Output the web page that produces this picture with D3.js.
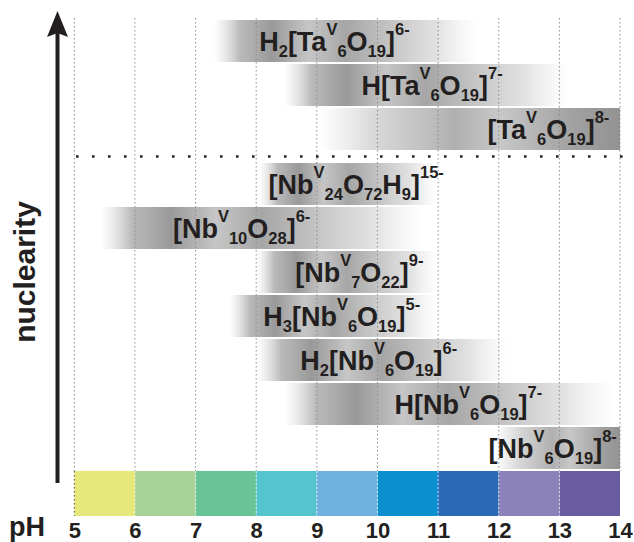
<!DOCTYPE html>
<html>
<head>
<meta charset="utf-8">
<script src="https://cdn.jsdelivr.net/npm/d3@7/dist/d3.min.js"></script>
<style>
  html, body { margin: 0; padding: 0; background: #fff; }
  svg { display: block; }
  text { font-family: "Liberation Sans", Arial, sans-serif; font-weight: bold; fill: #231f20; }
</style>
</head>
<body>
<svg id="chart" width="634" height="542"></svg>
<script>
// ---------- data ----------
const species = [
  "H{_2}[Ta{^V}{_6}O{_19}]{^6-}",
  "H[Ta{^V}{_6}O{_19}]{^7-}",
  "[Ta{^V}{_6}O{_19}]{^8-}",
  "[Nb{^V}{_24}O{_72}H{_9}]{^15-}",
  "[Nb{^V}{_10}O{_28}]{^6-}",
  "[Nb{^V}{_7}O{_22}]{^9-}",
  "H{_3}[Nb{^V}{_6}O{_19}]{^5-}",
  "H{_2}[Nb{^V}{_6}O{_19}]{^6-}",
  "H[Nb{^V}{_6}O{_19}]{^7-}",
  "[Nb{^V}{_6}O{_19}]{^8-}"
];
const metal   = ["Ta","Ta","Ta","Nb","Nb","Nb","Nb","Nb","Nb","Nb"];
const phStart = [7.3, 8.45, 9.05, 8.05, 5.42, 8.0, 7.55, 8.0, 8.45, 11.95];
const phEnd   = [11.65, 13.15, 14, 11.0, 10.75, 11.0, 11.0, 12.15, 13.9, 14];
const peakPH  = [9.29, 10.9, 12.82, 9.65, 7.76, 9.70, 9.41, 10.02, 11.5, 12.89];

const phTicks = [5, 6, 7, 8, 9, 10, 11, 12, 13, 14];
const phColors = ["#e7e87b", "#a9d396", "#68c396", "#55c4ce", "#6fb2df",
                  "#0b8fce", "#2a69b3", "#8a82b9", "#6a5ca0"];

// ---------- layout ----------
const svg = d3.select("#chart");
const x = d3.scaleLinear().domain([5, 14]).range([74.3, 620]);
const y = d3.scaleBand().domain(d3.range(species.length)).range([20, 458]).paddingInner(2 / 44);
const groupGap = 11;
const yTop = i => y(i) + (metal[i] === "Nb" ? groupGap : 0);
const cbTop = 471, cbBottom = 516;

const defs = svg.append("defs");

// gradients
const profBoth = [
  [0, "#d0d0d0", 0], [0.1, "#adadad", 0.85], [0.22, "#999999", 1], [0.36, "#c6c6c6", 1],
  [0.5, "#a6a6a6", 1], [0.68, "#c6c6c6", 1], [0.84, "#d6d6d6", 0.75], [1, "#e4e4e4", 0]
];
const profRight = [
  [0, "#dadada", 0], [0.18, "#d4d4d4", 0.9], [0.45, "#b0b0b0", 1], [0.6, "#c8c8c8", 1],
  [0.85, "#a0a0a0", 1], [1, "#939393", 1]
];
species.forEach((s, i) => {
  const g = defs.append("linearGradient").attr("id", "grad" + i)
    .attr("x1", 0).attr("x2", 1).attr("y1", 0).attr("y2", 0);
  const prof = phEnd[i] >= 14 ? profRight : profBoth;
  prof.forEach(([o, c, op]) => g.append("stop").attr("offset", o).attr("stop-color", c).attr("stop-opacity", op));
});

// bars
svg.append("g").selectAll("rect").data(species).join("rect")
  .attr("x", (d, i) => x(phStart[i]))
  .attr("width", (d, i) => x(phEnd[i]) - x(phStart[i]))
  .attr("y", (d, i) => yTop(i))
  .attr("height", y.bandwidth())
  .attr("fill", (d, i) => `url(#grad${i})`);

// color bar
svg.append("g").selectAll("rect").data(phColors).join("rect")
  .attr("x", (d, i) => x(phTicks[i]))
  .attr("width", (d, i) => x(phTicks[i + 1]) - x(phTicks[i]))
  .attr("y", cbTop).attr("height", cbBottom - cbTop)
  .attr("fill", d => d);

// vertical grid lines
const grid = svg.append("g");
grid.selectAll("line.g").data(phTicks).join("line")
  .attr("x1", d => x(d)).attr("x2", d => x(d))
  .attr("y1", 18).attr("y2", cbTop)
  .attr("stroke", "#8c8c8c").attr("stroke-width", 1).attr("stroke-dasharray", "1.5,2.5");
grid.selectAll("line.c").data(phTicks.slice(1, -1)).join("line")
  .attr("x1", d => x(d)).attr("x2", d => x(d))
  .attr("y1", cbTop).attr("y2", cbBottom)
  .attr("stroke", "#ffffff").attr("stroke-opacity", 0.7).attr("stroke-width", 1).attr("stroke-dasharray", "2,2");
grid.append("line")
  .attr("x1", x(5)).attr("x2", x(5)).attr("y1", cbTop).attr("y2", cbBottom)
  .attr("stroke", "#555").attr("stroke-width", 1).attr("stroke-dasharray", "1.5,2.5");

// separator
const sepY = (yTop(2) + y.bandwidth() + yTop(3)) / 2;
svg.append("line").attr("x1", 76).attr("x2", 630).attr("y1", sepY).attr("y2", sepY)
  .attr("stroke", "#231f20").attr("stroke-width", 2.6).attr("stroke-dasharray", "2.6,13.4");

// labels
function addLabel(sel, str) {
  const parts = [];
  const re = /\{([_^])([^}]*)\}|([^{]+)/g;
  let m;
  while ((m = re.exec(str)) !== null) {
    if (m[3]) parts.push({ t: m[3], k: "n" });
    else parts.push({ t: m[2], k: m[1] === "_" ? "sub" : "sup" });
  }
  let cur = 0;
  parts.forEach(p => {
    const target = p.k === "sub" ? 6 : p.k === "sup" ? -16 : 0;
    sel.append("tspan").attr("dy", target - cur)
      .attr("font-size", p.k === "n" ? 27 : 16.5).text(p.t);
    cur = target;
  });
}
species.forEach((s, i) => {
  const t = svg.append("text")
    .attr("x", x(peakPH[i]))
    .attr("y", yTop(i) + y.bandwidth() / 2 + 10)
    .attr("text-anchor", "middle");
  addLabel(t, s);
});

// x axis (pH)
const axis = svg.append("g").attr("transform", `translate(0,${cbBottom})`)
  .call(d3.axisBottom(x).tickValues(phTicks).tickFormat(d3.format("d")).tickSize(0));
axis.select(".domain").remove();
axis.selectAll("text").attr("y", 22).attr("dy", 0)
  .style("font-size", "22px").style("font-weight", "bold")
  .style("font-family", '"Liberation Sans", Arial, sans-serif').attr("fill", "#231f20");

svg.append("text").attr("x", 9).attr("y", 536).attr("font-size", 27).text("pH");

// nuclearity arrow
svg.append("line").attr("x1", 57.5).attr("x2", 57.5).attr("y1", 483).attr("y2", 30)
  .attr("stroke", "#231f20").attr("stroke-width", 4);
svg.append("path").attr("d", "M47,37 L57.5,11 L68,37 L57.5,33 Z").attr("fill", "#231f20");

svg.append("text").attr("transform", "translate(35,272) rotate(-90)")
  .attr("text-anchor", "middle").attr("font-size", 30).text("nuclearity");
</script>
</body>
</html>
